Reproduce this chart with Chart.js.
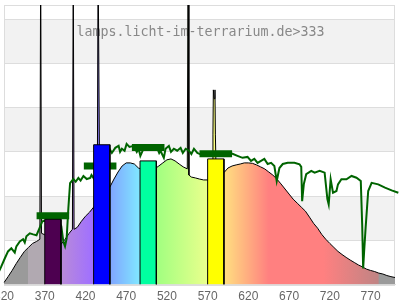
<!DOCTYPE html>
<html>
<head>
<meta charset="utf-8">
<script src="https://cdn.jsdelivr.net/npm/chart.js@4/dist/chart.umd.min.js"></script>
<style>
html,body{margin:0;padding:0;background:#fff;overflow:hidden;width:400px;height:300px;}
#wrap{position:absolute;left:-11px;top:0;width:411px;height:309px;}
</style>
</head>
<body>
<div id="wrap"><canvas id="c"></canvas></div>
<script>
// ---------- data ----------
const chartTitle = "lamps.licht-im-terrarium.de>333";
const xTicks = [320, 370, 420, 470, 520, 570, 620, 670, 720, 770];
const xRange = [320, 800];
const yRange = [0, 1.2636];

// lamp spectrum (black outline, coloured fill)
const lampNm = [320,325,330,335,340,345,350,355,360,364,365,366,370,375,380,385,390,395,400,404,405,406,410,415,420,425,430,434.5,435.5,436.5,437.5,440,445,450,455,460,465,470,475,480,485,490,495,500,505,510,515,520,525,530,535,540,545,546,547,550,555,560,565,570,575.5,576.5,577,578,579,579.5,580.5,585,590,595,600,605,610,615,620,625,630,635,640,645,650,655,660,665,670,675,680,685,690,695,700,705,710,715,720,725,730,735,740,745,750,755,760,765,770,775,780,785,790,795,800];
const lampVal = [0.009,0.036,0.064,0.095,0.123,0.150,0.168,0.186,0.195,0.205,1.5,0.232,0.225,0.215,0.205,0.195,0.182,0.205,0.232,0.250,1.5,0.250,0.259,0.286,0.309,0.327,0.350,0.370,1.5,1.5,0.380,0.395,0.420,0.441,0.477,0.509,0.536,0.550,0.550,0.545,0.527,0.520,0.520,0.520,0.523,0.536,0.550,0.564,0.568,0.559,0.545,0.532,0.523,1.5,0.495,0.486,0.482,0.477,0.473,0.473,0.475,0.68,0.88,0.84,0.88,0.68,0.48,0.490,0.506,0.527,0.536,0.541,0.545,0.550,0.550,0.548,0.541,0.532,0.523,0.509,0.495,0.477,0.455,0.432,0.409,0.386,0.368,0.350,0.332,0.305,0.277,0.255,0.227,0.205,0.186,0.168,0.150,0.136,0.123,0.111,0.100,0.089,0.080,0.070,0.064,0.059,0.052,0.048,0.041,0.036,0.032];

// sunlight reference (green line)
const sunNm = [312.6,316.7,320.9,324.9,329.0,333.2,335.2,339.4,343.4,345.5,347.5,351.7,355.8,359.9,364.0,367.0,372,378,383,388,390.3,392.8,394.9,396.9,399.0,401.1,405.1,408,411.3,414,417.5,421.6,425.8,427.4,432,440,445,449.6,452.4,456.6,460.7,462.5,464.7,468,470.5,474,479.2,483,485.3,487.4,492,500,507.9,510.5,512.1,516.2,518.3,522.4,525,528.5,532.6,536.8,539.5,543.0,547.0,550,553.2,557.3,565.6,575,585,593,600.5,606.6,612.8,619.0,623.2,627.3,631.3,635.5,639.6,643.7,647.9,651.9,654.8,658.1,662.2,668.3,676.6,682.8,684.9,686.0,688.1,691.0,697.2,701.3,707.5,713.6,717.0,718.6,721.0,723.9,728.1,730.0,734.2,740.4,746.6,752.7,758.0,759.7,760.9,762.1,763.9,767.1,771.3,779.4,787.7,795.9,804.1];
const sunVal = [0.050,0.082,0.118,0.150,0.164,0.145,0.173,0.195,0.205,0.190,0.218,0.232,0.227,0.223,0.259,0.286,0.290,0.270,0.250,0.280,0.264,0.195,0.173,0.209,0.345,0.459,0.477,0.465,0.482,0.470,0.491,0.477,0.482,0.495,0.470,0.550,0.600,0.614,0.595,0.618,0.627,0.600,0.614,0.605,0.636,0.622,0.627,0.600,0.614,0.582,0.620,0.620,0.618,0.595,0.605,0.573,0.614,0.627,0.600,0.614,0.605,0.618,0.595,0.614,0.605,0.590,0.614,0.595,0.582,0.590,0.590,0.595,0.591,0.582,0.573,0.577,0.559,0.568,0.550,0.559,0.568,0.545,0.550,0.536,0.468,0.527,0.545,0.551,0.551,0.544,0.532,0.377,0.455,0.499,0.514,0.506,0.514,0.506,0.386,0.362,0.476,0.415,0.423,0.453,0.476,0.476,0.491,0.483,0.468,0.273,0.073,0.150,0.255,0.423,0.460,0.453,0.438,0.426,0.415];

// band bars
const bandFrom = [370, 430, 487, 570];
const bandTo   = [390, 450, 507, 590];
const bandVal  = [0.295, 0.632, 0.559, 0.568];

// sunlight band averages (green markers)
const markFrom = [360, 418, 477, 560];
const markTo   = [400, 458, 517, 600];
const markVal  = [0.311, 0.536, 0.620, 0.591];

// ---------- styles ----------
const bandColors = ['rgb(77,0,80)', '#0000ff', 'rgb(0,255,160)', '#ffff00'];
const sunColor = 'rgb(0,100,0)';
const fillStops = [
  [320,'#9a9a9a'],[349,'#9a9a9a'],[350,'#b1a9b1'],[368,'#b1a9b1'],[372,'#bb90d0'],
  [390,'#b98bd8'],[428,'#a070ff'],[440,'#8888ff'],[450,'#80a4ff'],[487,'#80e8ff'],
  [495,'#80ffc0'],[507,'#a0ff80'],[568,'#e8ff8c'],[580,'#ffff80'],[590,'#ffe080'],
  [645,'#ff8080'],[712,'#ff8080'],[779,'#c08484'],[781,'#9a9a9a'],[800,'#9a9a9a']
];

function pts(xs, ys){ return xs.map((x,i)=>({x:x, y:ys[i]})); }

function spectrumFill(context){
  const chart = context.chart;
  const area = chart.chartArea;
  const sx = chart.scales.x;
  if (!area || !sx) return '#b0b0b0';
  const x0 = sx.getPixelForValue(xRange[0]), x1 = sx.getPixelForValue(xRange[1]);
  const g = chart.ctx.createLinearGradient(x0, 0, x1, 0);
  fillStops.forEach(([nm,c]) => {
    const t = (nm - xRange[0])/(xRange[1]-xRange[0]);
    g.addColorStop(Math.min(1,Math.max(0,t)), c);
  });
  return g;
}

const datasets = [];
bandFrom.forEach((lo,i)=>{
  datasets.push({
    type:'line', order:0,
    data:[{x:lo,y:0},{x:lo,y:bandVal[i]},{x:bandTo[i],y:bandVal[i]},{x:bandTo[i],y:0}],
    borderColor:'#000', borderWidth:1, backgroundColor:bandColors[i],
    fill:'origin', pointRadius:0, tension:0
  });
});
markFrom.forEach((lo,i)=>{
  datasets.push({
    type:'line', order:1,
    data:[{x:lo,y:markVal[i]},{x:markTo[i],y:markVal[i]}],
    borderColor:sunColor, borderWidth:7, borderCapStyle:'butt',
    fill:false, pointRadius:0
  });
});
datasets.push({
  type:'line', order:2, data:pts(sunNm, sunVal),
  borderColor:sunColor, borderWidth:2, fill:false, pointRadius:0, tension:0, clip:false
});
datasets.push({
  type:'line', order:3, data:pts(lampNm, lampVal),
  borderColor:'#000', borderWidth:1, backgroundColor:spectrumFill,
  fill:'origin', pointRadius:0, tension:0
});

const bandsPlugin = {
  id:'bands',
  beforeDraw(chart){
    const {ctx, chartArea:a, scales:{y}} = chart;
    ctx.save();
    ctx.fillStyle = '#fff';
    ctx.fillRect(0,0,chart.width,chart.height);
    ctx.fillStyle = 'rgb(242,242,242)';
    for (let v = 0.2; v < yRange[1]; v += 0.4){
      const top = y.getPixelForValue(Math.min(v+0.2, yRange[1]));
      const bot = y.getPixelForValue(v);
      ctx.fillRect(a.left, top, a.right-a.left, bot-top);
    }
    ctx.restore();
  },
  beforeDatasetsDraw(chart){
    const {ctx, chartArea:a} = chart;
    ctx.save();
    ctx.strokeStyle = '#dddddd';
    ctx.lineWidth = 1;
    ctx.strokeRect(Math.round(a.left)+0.5, Math.round(a.top)+0.5, Math.round(a.right-a.left)-1, Math.round(a.bottom-a.top));
    ctx.fillStyle = '#888';
    ctx.font = '13.3px "DejaVu Sans Mono", monospace';
    ctx.textAlign = 'center';
    ctx.textBaseline = 'middle';
    ctx.fillText(chartTitle, (a.left+a.right)/2 + 1, a.top + 28);
    ctx.restore();
  }
};

new Chart(document.getElementById('c'), {
  type:'line',
  data:{datasets},
  plugins:[bandsPlugin],
  options:{
    responsive:true, maintainAspectRatio:false, animation:false, devicePixelRatio:1,
    layout:{padding:{top:5,right:5,left:0,bottom:0}},
    plugins:{legend:{display:false}, tooltip:{enabled:false}, title:{display:false}},
    scales:{
      x:{
        type:'linear', bounds:'data',
        afterDataLimits(s){ s.min = xRange[0]; s.max = xRange[1]; },
        afterBuildTicks(s){ s.ticks = xTicks.map(v=>({value:v})); },
        grid:{display:false, drawTicks:false},
        border:{display:true, color:'#dddddd'},
        ticks:{color:'#666', padding:5, font:{size:12}, autoSkip:false, maxRotation:0,
               callback:(v)=>String(v)}
      },
      y:{
        type:'linear', min:yRange[0], max:yRange[1],
        ticks:{display:false, stepSize:0.2},
        grid:{color:'#dddddd', drawTicks:false},
        border:{display:true, color:'#dddddd'}
      }
    }
  }
});
</script>
</body>
</html>
